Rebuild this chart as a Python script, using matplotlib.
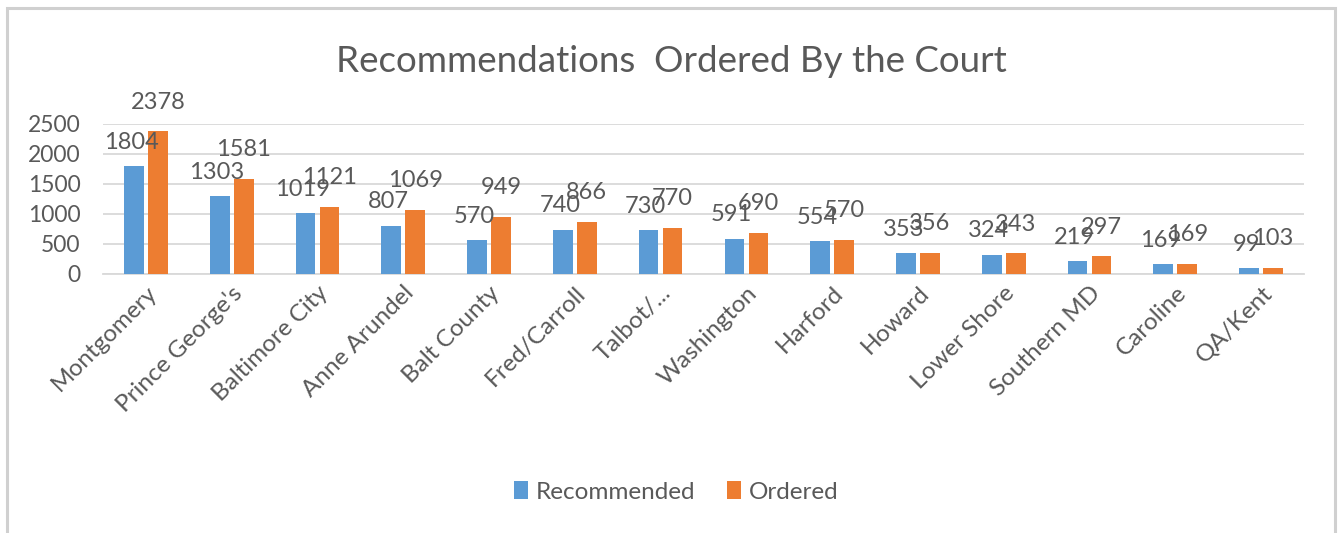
import matplotlib
matplotlib.use("Agg")
import matplotlib.pyplot as plt
import numpy as np
from matplotlib.patches import Rectangle

categories = ["Montgomery", "Prince George's", "Baltimore City", "Anne Arundel", "Balt County",
              "Fred/Carroll", "Talbot/...", "Washington", "Harford", "Howard", "Lower Shore",
              "Southern MD", "Caroline", "QA/Kent"]
recommended = [1804, 1303, 1019, 807, 570, 740, 730, 591, 554, 353, 324, 219, 169, 99]
ordered = [2378, 1581, 1121, 1069, 949, 866, 770, 690, 570, 356, 343, 297, 169, 103]
yticks = [0, 500, 1000, 1500, 2000, 2500]

BLUE = "#5B9BD5"
ORANGE = "#ED7D31"
TXT = "#595959"
GRID = "#D9D9D9"
FONT = "Lato"

W, H = 1341, 533
fig = plt.figure(figsize=(W / 100, H / 100), dpi=100)
fig.patch.set_facecolor("white")

# outer chart frame
fig.patches.append(Rectangle((7 / W, -0.05), (1335 - 7) / W, 1.05 - 8 / H, transform=fig.transFigure,
                             fill=False, edgecolor="#D0D0D0", linewidth=2.2))

ax = fig.add_axes([103 / W, 1 - 274 / H, (1304 - 103) / W, (274 - 124) / H])
x = np.arange(len(categories))
bw = 0.23
off = 0.14
b1 = ax.bar(x - off, recommended, bw, color=BLUE, label="Recommended", zorder=3)
b2 = ax.bar(x + off, ordered, bw, color=ORANGE, label="Ordered", zorder=3)

for xi, v in zip(x, recommended):
    ax.annotate(str(v), (xi - off, v), xytext=(-2, 17), textcoords="offset points",
                ha="center", va="center", fontsize=17, color=TXT, family=FONT, zorder=4)
for xi, v in zip(x, ordered):
    ax.annotate(str(v), (xi + off, v), xytext=(0, 21), textcoords="offset points",
                ha="center", va="center", fontsize=17, color=TXT, family=FONT, zorder=4)

ax.set_xlim(-0.5, len(categories) - 0.5)
ax.set_ylim(0, 2500)
ax.set_yticks(yticks)
ax.set_yticklabels([str(t) for t in yticks], fontsize=16.5, color=TXT, family=FONT)
ax.yaxis.grid(True, color=GRID, linewidth=1.3, zorder=0)
ax.set_axisbelow(True)
for s in ["top", "right", "left"]:
    ax.spines[s].set_visible(False)
ax.spines["bottom"].set_color(GRID)
ax.spines["bottom"].set_linewidth(1.3)
ax.tick_params(axis="y", length=0, pad=16)
ax.tick_params(axis="x", length=0, pad=6)
ax.set_xticks(x)
ax.set_xticklabels(categories, rotation=45, ha="right", rotation_mode="anchor",
                   fontsize=17.5, color=TXT, family=FONT)

fig.text(671 / W, 1 - 62 / H, "Recommendations  Ordered By the Court", ha="center", va="center",
         fontsize=26.5, color=TXT, family=FONT)

leg = fig.legend(handles=[b1, b2], labels=["Recommended", "Ordered"], loc="center",
                 bbox_to_anchor=(676 / W, 1 - 492 / H), ncol=2, frameon=False,
                 prop={"family": FONT, "size": 17.5}, handlelength=0.6, handleheight=0.75,
                 handletextpad=0.3, columnspacing=1.3, labelcolor=TXT)

fig.savefig("out.png", dpi=100, facecolor="white")
